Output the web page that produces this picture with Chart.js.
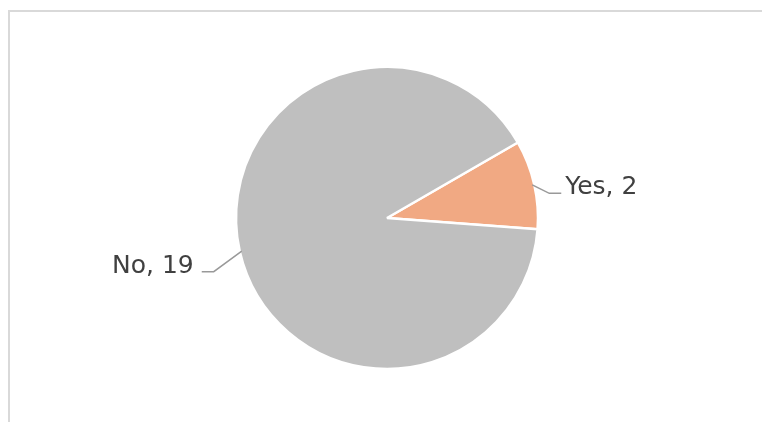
<!DOCTYPE html>
<html>
<head>
<meta charset="utf-8">
<script src="https://cdn.jsdelivr.net/npm/chart.js@4.4.1/dist/chart.umd.min.js"></script>
<style>
  html, body { margin: 0; padding: 0; background: #ffffff; overflow: hidden; }
  #page { position: relative; width: 762px; height: 422px; }
  /* panel outline, only its top and left edges fall inside the view */
  #panel {
    position: absolute; left: 8px; top: 10px; width: 900px; height: 600px;
    border-top: 2px solid #d9d9d9; border-left: 2px solid #d9d9d9;
    box-sizing: border-box;
  }
  #pieChart { position: absolute; left: 0; top: 0; }
</style>
</head>
<body>
<div id="page">
  <div id="panel"></div>
  <canvas id="pieChart" width="762" height="422"></canvas>
</div>

<script>
// Survey answers
const answers = ["Yes", "No"];
const answerCounts = [2, 19];
const sliceColors = ["#F1A983", "#BFBFBF"];

// Where each label's leader line bends, relative to the slice's outer midpoint
const leaderBends = [[17, 8.5], [-28, 20.5]];

// Draws "Label, value" outside each slice with a bent leader line
const outsideLabels = {
  id: "outsideLabels",
  afterDatasetsDraw: function (chart) {
    const ctx = chart.ctx;
    const meta = chart.getDatasetMeta(0);

    ctx.save();
    ctx.font = "25px 'DejaVu Sans', sans-serif";
    ctx.textBaseline = "alphabetic";

    meta.data.forEach((arc, i) => {
      const mid = (arc.startAngle + arc.endAngle) / 2;
      const r = arc.outerRadius - 2;
      const sx = arc.x + Math.cos(mid) * r;
      const sy = arc.y + Math.sin(mid) * r;

      const right = Math.cos(mid) >= 0;
      const bx = sx + leaderBends[i][0];
      const by = sy + leaderBends[i][1];
      const ex = bx + (right ? 12 : -12);

      ctx.strokeStyle = "#999999";
      ctx.lineWidth = 1.5;
      ctx.beginPath();
      ctx.moveTo(sx, sy);
      ctx.lineTo(bx, by);
      ctx.lineTo(ex, by);
      ctx.stroke();

      const text = answers[i] + ", " + answerCounts[i];
      ctx.fillStyle = "#404040";
      ctx.textAlign = right ? "left" : "right";
      ctx.fillText(text, ex + (right ? 4 : -8), by + 1);
    });

    ctx.restore();
  }
};

const ctx = document.getElementById("pieChart").getContext("2d");
new Chart(ctx, {
  type: "pie",
  data: {
    labels: answers,
    datasets: [{
      data: answerCounts,
      backgroundColor: sliceColors,
      borderColor: "#ffffff",
      borderWidth: 2.5,
      radius: 151
    }]
  },
  options: {
    responsive: false,
    animation: false,
    rotation: 60,
    layout: { padding: { left: 12, right: 0, top: 14, bottom: 0 } },
    plugins: {
      legend: { display: false },
      tooltip: { enabled: false }
    }
  },
  plugins: [outsideLabels]
});
</script>
</body>
</html>
